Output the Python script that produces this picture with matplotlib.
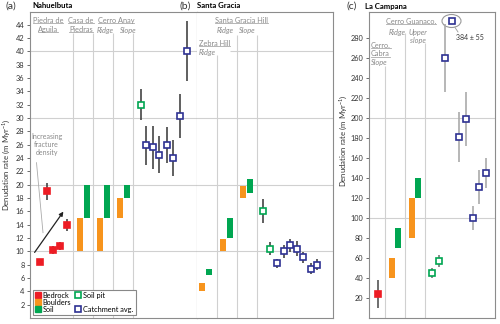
import numpy as np
import matplotlib
matplotlib.use('Agg')
import matplotlib.pyplot as plt
from matplotlib.lines import Line2D
from matplotlib.patches import Ellipse

plt.rcParams['font.family'] = ['Lato', 'DejaVu Sans']
plt.rcParams['mathtext.fontset'] = 'custom'
plt.rcParams['mathtext.rm'] = 'Lato'

# --- data (x positions are column slots within each panel) ---
# (a) Nahuelbuta
a_bed_x = [10, 17, 23, 30, 37]
a_bed_y = [8.4, 19.0, 10.2, 10.8, 14.0]
a_bed_err = [0.4, 1.3, 0.6, 0.6, 0.9]
a_bould_x = [50, 70, 90]
a_bould_lo = [10, 10, 15]
a_bould_hi = [15, 15, 18]
a_soil_x = [57, 77, 97]
a_soil_lo = [15, 15, 18]
a_soil_hi = [20, 20, 20]
a_pit_x = [111]
a_pit_y = [32.0]
a_pit_err = [2.3]
a_catch_x = [116, 123, 129, 137, 143, 150, 157]
a_catch_y = [25.9, 25.6, 24.5, 26.0, 24.0, 30.3, 40.1]
a_catch_err = [2.9, 3.2, 2.8, 2.7, 2.7, 3.3, 4.5]

# (b) Santa Gracia
b_bould_x = [5, 26, 46]
b_bould_lo = [4.0, 10.0, 18.0]
b_bould_hi = [5.3, 11.8, 19.8]
b_soil_x = [12, 33, 53]
b_soil_lo = [6.5, 12.0, 18.8]
b_soil_hi = [7.3, 15.0, 20.8]
b_pit_x = [66, 73]
b_pit_y = [16.1, 10.4]
b_pit_err = [1.8, 1.0]
b_catch_x = [80, 87, 93, 100, 106, 114, 120]
b_catch_y = [8.2, 10.0, 10.9, 10.4, 9.1, 7.4, 8.0]
b_catch_err = [0.7, 1.0, 1.0, 1.1, 0.8, 0.8, 0.8]

# (c) La Campana
c_bed_x = [9]
c_bed_y = [24]
c_bed_err = [14]
c_bould_x = [23, 43]
c_bould_lo = [40, 80]
c_bould_hi = [60, 120]
c_soil_x = [29, 49]
c_soil_lo = [70, 120]
c_soil_hi = [90, 140]
c_pit_x = [63, 70]
c_pit_y = [45, 57]
c_pit_err = [5, 6]
c_catch_x = [76, 83, 90, 97, 104, 110, 117]
c_catch_y = [260, 384, 181, 199, 100, 131, 145]
c_catch_err = [34, 55, 25, 27, 12, 17, 15]
c_offscale_y = 297  # where the off-scale value is drawn

RED = '#ed1c24'
ORANGE = '#f7941d'
GREEN = '#00a651'
NAVY = '#2e3192'
GRID = '#d0d0d0'
LABEL = '#8a8a8a'
FS = 5.3

W, H = 500, 324
def fx(px):
    return px / W
def fy(py):
    return 1 - py / H

fig = plt.figure(figsize=(5, 3.24), dpi=100)
ax_a = fig.add_axes([fx(30), fy(318), 167 / W, 306 / H])
ax_b = fig.add_axes([fx(197), fy(318), 136 / W, 306 / H])
ax_c = fig.add_axes([fx(369), fy(318), 126 / W, 306 / H])


def style(ax, xmax, ymax):
    ax.set_xlim(0, xmax)
    ax.set_ylim(0, ymax)
    ax.set_xticks([])
    for s in ax.spines.values():
        s.set_color('#8c8c8c')
        s.set_linewidth(0.8)
    ax.tick_params(axis='y', length=2.5, width=0.6, color='#555555',
                   labelsize=FS, labelcolor='#333333', pad=1.5)


def bars(ax, xs, lo, hi, color):
    lo = np.array(lo)
    hi = np.array(hi)
    ax.bar(xs, hi - lo, bottom=lo, width=6.3, color=color, linewidth=0, zorder=3)


def points(ax, xs, ys, errs, face, edge, ecolor, shown=None):
    ax.errorbar(xs, ys, yerr=errs, fmt='none', ecolor=ecolor, elinewidth=1.2, zorder=2)
    ys_plot = ys if shown is None else shown
    ax.plot(xs, ys_plot, 's', ms=4.5, mfc=face, mec=edge, mew=1.2, zorder=4,
            clip_on=False)


# panel a
style(ax_a, 167, 45.9)
ax_a.set_yticks(np.arange(2, 45, 2))
for v in [10, 20, 30, 40]:
    ax_a.axhline(v, color=GRID, lw=0.8, zorder=0)
ax_a.vlines([43, 63, 83, 103], 0, 42.8, color=GRID, lw=0.8, zorder=0)
bars(ax_a, a_bould_x, a_bould_lo, a_bould_hi, ORANGE)
bars(ax_a, a_soil_x, a_soil_lo, a_soil_hi, GREEN)
points(ax_a, a_bed_x, a_bed_y, a_bed_err, RED, RED, '#444444')
points(ax_a, a_pit_x, a_pit_y, a_pit_err, 'white', GREEN, '#444444')
points(ax_a, a_catch_x, a_catch_y, a_catch_err, 'white', NAVY, '#444444')
ax_a.set_ylabel('Denudation rate (m Myr$^{-1}$)', fontsize=5.6, color='#333333')
ax_a.yaxis.set_label_coords(-0.105, 0.5)
ax_a.text(16.5, 26.0, 'Increasing\nfracture\ndensity', fontsize=5, color=LABEL,
          ha='center', va='center', linespacing=1.15)
ax_a.plot([6.5, 13], [23.3, 12.8], color='#aaaaaa', lw=0.6)
ax_a.annotate('', xy=(35, 16.3), xytext=(3, 9.5),
              arrowprops=dict(arrowstyle='-|>', color='#222222', lw=0.9,
                              mutation_scale=6))

handles = [
    Line2D([], [], ls='', marker='s', ms=4.8, mfc=RED, mec=RED),
    Line2D([], [], ls='', marker='s', ms=4.8, mfc=ORANGE, mec=ORANGE),
    Line2D([], [], ls='', marker='s', ms=4.8, mfc=GREEN, mec=GREEN),
    Line2D([], [], ls='', marker='s', ms=4.2, mfc='white', mec=GREEN, mew=1.2),
    Line2D([], [], ls='', marker=None),
    Line2D([], [], ls='', marker='s', ms=4.2, mfc='white', mec=NAVY, mew=1.2),
]
labels = ['Bedrock', 'Boulders', 'Soil', 'Soil pit', '', 'Catchment avg.']
leg = ax_a.legend(handles, labels, ncol=2, loc='lower left',
                  bbox_to_anchor=(0.015, 0.01), fontsize=5.3,
                  labelspacing=0.0, handlelength=0.8, handletextpad=0.25,
                  columnspacing=0.6, borderpad=0.3, borderaxespad=0,
                  fancybox=False, framealpha=1, edgecolor='#888888')
leg.get_frame().set_linewidth(0.8)

# panel b
style(ax_b, 136, 45.9)
ax_b.tick_params(axis='y', left=False, labelleft=False)
ax_b.spines['left'].set_visible(False)
for v in [10, 20, 30]:
    ax_b.axhline(v, color=GRID, lw=0.8, zorder=0)
ax_b.hlines(40, 33, 136, color=GRID, lw=0.8, zorder=0)
ax_b.vlines([20], 0, 39.5, color=GRID, lw=0.8, zorder=0)
ax_b.vlines([40, 60], 0, 42.5, color=GRID, lw=0.8, zorder=0)
bars(ax_b, b_bould_x, b_bould_lo, b_bould_hi, ORANGE)
bars(ax_b, b_soil_x, b_soil_lo, b_soil_hi, GREEN)
points(ax_b, b_pit_x, b_pit_y, b_pit_err, 'white', GREEN, '#444444')
points(ax_b, b_catch_x, b_catch_y, b_catch_err, 'white', NAVY, '#444444')

# panel c
style(ax_c, 126, 306)
ax_c.set_yticks(np.arange(20, 290, 20))
for v in [100, 200]:
    ax_c.axhline(v, color=GRID, lw=0.8, zorder=0)
ax_c.vlines([16], 0, 252, color=GRID, lw=0.8, zorder=0)
ax_c.vlines([36], 0, 285, color=GRID, lw=0.8, zorder=0)
ax_c.vlines([56], 0, 275, color=GRID, lw=0.8, zorder=0)
bars(ax_c, c_bould_x, c_bould_lo, c_bould_hi, ORANGE)
bars(ax_c, c_soil_x, c_soil_lo, c_soil_hi, GREEN)
points(ax_c, c_bed_x, c_bed_y, c_bed_err, RED, RED, '#555555')
points(ax_c, c_pit_x, c_pit_y, c_pit_err, 'white', GREEN, '#777777')
points(ax_c, c_catch_x, c_catch_y, c_catch_err, 'white', NAVY, '#aaaaaa',
       shown=np.minimum(c_catch_y, c_offscale_y))
ax_c.set_ylabel('Denudation rate (m Myr$^{-1}$)', fontsize=5.6, color='#333333')
ax_c.yaxis.set_label_coords(-0.155, 0.58)
ax_c.add_patch(Ellipse((82.5, 297), 19, 13, fill=False, ec='#999999', lw=0.8,
                       clip_on=False))
ax_c.plot([86, 89], [290.5, 286], color='#999999', lw=0.6)
ax_c.text(87, 281, '384 ± 55', fontsize=5, color='#333333', ha='left', va='center')

# titles
fig.text(fx(11), fy(6), '(a)', fontsize=7.5, color='#333333', ha='center', va='center')
fig.text(fx(32), fy(6), 'Nahuelbuta', fontsize=5.6, weight='bold', ha='left', va='center')
fig.text(fx(185), fy(6), '(b)', fontsize=7.5, color='#333333', ha='center', va='center')
fig.text(fx(197), fy(6), 'Santa Gracia', fontsize=5.6, weight='bold', ha='left', va='center')
fig.text(fx(352), fy(6), '(c)', fontsize=7.5, color='#333333', ha='center', va='center')
fig.text(fx(365), fy(6), 'La Campana', fontsize=5.6, weight='bold', ha='left', va='center')

# site labels
underlined = []
def site(px, py, s, ha='center', italic=False, ul=False):
    t = fig.text(fx(px), fy(py), s, fontsize=FS, color=LABEL, ha=ha, va='center',
                 style='italic' if italic else 'normal')
    if ul:
        underlined.append(t)
    return t

site(48, 20.5, 'Piedra de', ul=True)
site(48, 29.5, 'Aguila', ul=True)
site(81, 20.5, 'Casa de', ul=True)
site(81, 29.5, 'Piedras', ul=True)
site(116, 20.5, 'Cerro Anay', ul=True)
site(105.5, 30, 'Ridge', italic=True)
site(128, 30, 'Slope', italic=True)

site(241.5, 20.5, 'Santa Gracia Hill', ul=True)
site(225.5, 30.5, 'Ridge', italic=True)
site(247.5, 30.5, 'Slope', italic=True)
site(199, 43, 'Zebra Hill', ha='left', ul=True)
site(199, 52, 'Ridge', ha='left', italic=True)

site(371, 45, 'Cerro.', ha='left', ul=True)
site(371, 54, 'Cabra', ha='left', ul=True)
site(371, 62.5, 'Slope', ha='left', italic=True)
site(411, 21, 'Cerro Guanaco.', ul=True)
site(397, 32, 'Ridge', italic=True)
site(418, 32, 'Upper', italic=True)
site(418, 41, 'slope', italic=True)

fig.canvas.draw()
inv = fig.transFigure.inverted()
for t in underlined:
    bb = t.get_window_extent()
    (x0, y0), (x1, _) = inv.transform([(bb.x0, bb.y0 + 1.0), (bb.x1, bb.y0 + 1.0)])
    fig.add_artist(Line2D([x0, x1], [y0, y0], color='#aaaaaa', lw=0.6))

fig.savefig('out.png', dpi=100)
